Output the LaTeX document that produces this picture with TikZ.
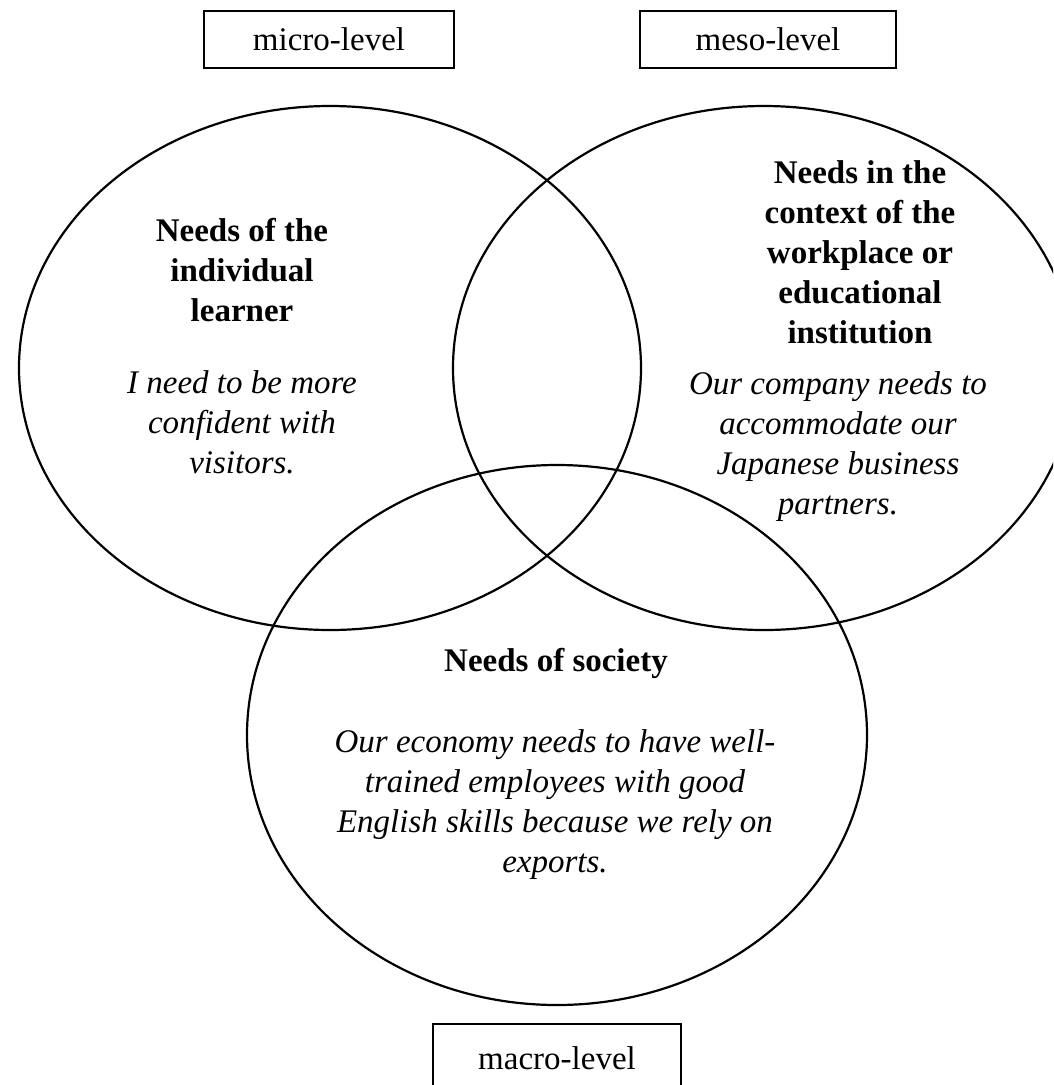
\documentclass[tikz,border=0pt]{standalone}
\usepackage{fontspec}
\setmainfont{Liberation Serif}
\begin{document}
\begin{tikzpicture}[x=1pt,y=-1pt,
  ring/.style={line width=2.2pt},
  lvl/.style={draw,line width=2.4pt,minimum height=57pt,inner sep=0pt,font=\fontsize{33}{40}\selectfont},
  head/.style={align=center,font=\fontsize{33}{40}\selectfont\bfseries},
  eg/.style={align=center,font=\fontsize{33}{40}\selectfont\itshape}]
\useasboundingbox (0,0) rectangle (1053,1085);
\clip (0,0) rectangle (1053,1085);
% the three circles
\draw[ring] (330,368) ellipse (311 and 262);   % micro
\draw[ring] (764,368) ellipse (311 and 262);   % meso
\draw[ring] (557,735) ellipse (310 and 270);   % macro
% level labels
\node[lvl,minimum width=250pt] (micro) at (329,39.5) {micro-level};
\node[lvl,minimum width=256pt] (meso) at (768,39.5) {meso-level};
\node[lvl,minimum width=248pt,minimum height=68pt] (macro) at (557,1058) {macro-level};
% texts in the circles
\node[head] (learnerhead) at (242,270) {Needs of the\\individual\\learner};
\node[eg] (learnereg) at (242,422) {I need to be more\\confident with\\visitors.};
\node[head] (placehead) at (860,252) {Needs in the\\context of the\\workplace or\\educational\\institution};
\node[eg] (placeeg) at (838,447) {Our company needs to\\accommodate our\\Japanese business\\partners.};
\node[head] (societyhead) at (556,663) {Needs of society};
\node[eg] (societyeg) at (555,805) {Our economy needs to have well-\\trained employees with good\\English skills because we rely on\\exports.};
\end{tikzpicture}
\end{document}
